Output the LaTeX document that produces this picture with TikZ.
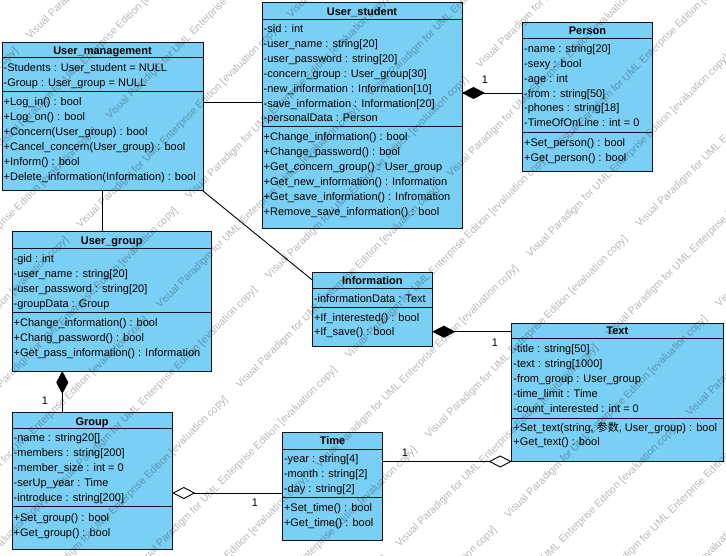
\documentclass[tikz,border=0pt]{standalone}
\usepackage{fontspec}
\setmainfont{Liberation Sans}
\newfontfamily\cjk{Noto Sans CJK SC}
\usetikzlibrary{arrows.meta}
\definecolor{classfill}{RGB}{122,207,245}
\definecolor{classline}{RGB}{16,20,32}
\tikzset{
  cls/.style={draw=classline, fill=classfill, line width=1pt, rectangle,
    inner sep=0pt, outer sep=0pt, anchor=north west},
  sepline/.style={draw=classline, line width=1pt},
  member/.style={anchor=base west, inner sep=0pt, font=\fontsize{11}{13}\selectfont},
  ctitle/.style={anchor=base, inner sep=0pt, font=\fontsize{11}{13}\selectfont\bfseries},
  conn/.style={line width=0.9pt, draw=black},
  comp/.style={conn, -{Diamond[length=23pt, width=12pt, fill=black]}},
  aggr/.style={conn, -{Diamond[length=23pt, width=12pt, fill=white]}},
  mult/.style={font=\fontsize{11}{13}\selectfont, inner sep=0pt, anchor=base},
  stamp/.style={anchor=base west, inner sep=0pt, rotate=45, text=black, text opacity=0.28,
    font=\fontsize{10.4}{12}\selectfont},
}
% class frame: name, left, top, right, bottom, first separator, second separator, title, title centre
\newcommand\umlbox[9]{%
  \node[cls, minimum width={#4-#2}, minimum height={#5-#3}] (#1) at (#2,#3) {};
  \draw[sepline] (#2,#6) -- (#4,#6);
  \draw[sepline] (#2,#7) -- (#4,#7);
  \node[ctitle] (#1-title) at ({(#2+#4)/2}, {#9+3.8}) {#8};
}
% a column of members: prefix, x, centre of first row, pitch, list
\newcommand\umlrows[5]{%
  \foreach \t [count=\i] in {#5}
    \node[member] (#1-\i) at (#2, {#3+(\i-1)*#4+3.8}) {\t};
}
\begin{document}
\begin{tikzpicture}[x=1pt, y=-1pt]
\useasboundingbox (0,0) rectangle (726,556);
\fill[white] (0,0) rectangle (726,556);

% User_management
\umlbox{um}{2}{43}{203}{191}{58}{92}{User\_management}{51}
\umlrows{um-a}{3.5}{68}{15}{{-Students : User\_student = NULL},{-Group : User\_group = NULL}}
\umlrows{um-m}{3.5}{101.5}{15}{{+Log\_in() : bool},{+Log\_on() : bool},{+Concern(User\_group) : bool},
  {+Cancel\_concern(User\_group) : bool},{+Inform() : bool},{+Delete\_information(Information) : bool}}

% User_student
\umlbox{us}{262}{3}{462}{229}{19.5}{127}{User\_student}{11.5}
\umlrows{us-a}{263.5}{29}{14.85}{{-sid : int},{-user\_name : string[20]},{-user\_password : string[20]},
  {-concern\_group : User\_group[30]},{-new\_information : Information[10]},
  {-save\_information : Information[20]},{-personalData : Person}}
\umlrows{us-m}{263.5}{137}{15}{{+Change\_information() : bool},{+Change\_password() : bool},
  {+Get\_concern\_group() : User\_group},{+Get\_new\_information() : Information},
  {+Get\_save\_information() : Infromation},{+Remove\_save\_information() : bool}}

% Person
\umlbox{ps}{522.5}{23}{652.5}{172}{38.7}{132.3}{Person}{31}
\umlrows{ps-a}{524}{48.6}{14.9}{{-name : string[20]},{-sexy : bool},{-age : int},{-from : string[50]},
  {-phones : string[18]},{-TimeOfOnLine : int = 0}}
\umlrows{ps-m}{524}{143}{14.5}{{+Set\_person() : bool},{+Get\_person() : bool}}

% User_group
\umlbox{ug}{12}{232}{211.5}{371}{248.7}{312}{User\_group}{241}
\umlrows{ug-a}{13.5}{258.7}{15}{{-gid : int},{-user\_name : string[20]},{-user\_password : string[20]},
  {-groupData : Group}}
\umlrows{ug-m}{13.5}{322.3}{15}{{+Change\_information() : bool},{+Chang\_password() : bool},
  {+Get\_pass\_information() : Information}}

% Information
\umlbox{inf}{312.3}{272.3}{432.3}{346}{289}{307.3}{Information}{281}
\umlrows{inf-a}{313.8}{298.3}{15}{{-informationData : Text}}
\umlrows{inf-m}{313.8}{317.3}{14.4}{{+If\_interested() : bool},{+If\_save() : bool}}

% Text
\umlbox{tx}{511.7}{323.5}{723}{461.3}{338.3}{418}{Text}{331}
\umlrows{tx-a}{513.2}{348.6}{14.9}{{-title : string[50]},{-text : string[1000]},{-from\_group : User\_group},
  {-time\_limit : Time},{-count\_interested : int = 0}}
\umlrows{tx-m}{513.2}{427.3}{14.7}{{+Set\_text(string, {\cjk 参数}, User\_group) : bool},{+Get\_text() : bool}}

% Group
\umlbox{gr}{12}{412.7}{172.3}{549}{428.3}{506.7}{Group}{421.5}
\umlrows{gr-a}{13.5}{438}{15}{{-name : string20[]},{-members : string[200]},{-member\_size : int = 0},
  {-serUp\_year : Time},{-introduce : string[200]}}
\umlrows{gr-m}{13.5}{517.3}{15}{{+Set\_group() : bool},{+Get\_group() : bool}}

% Time
\umlbox{tm}{282.3}{432.3}{382.7}{540}{449}{497.3}{Time}{441}
\umlrows{tm-a}{283.8}{458.3}{15}{{-year : string[4]},{-month : string[2]},{-day : string[2]}}
\umlrows{tm-m}{283.8}{507.3}{15}{{+Set\_time() : bool},{+Get\_time() : bool}}

% associations
\draw[conn] (um.east |- 0,102) -- (us.west |- 0,102);
\draw[conn] (um.south -| 102,0) -- (ug.north -| 102,0);
\draw[conn] (um.south east) -- (inf.west |- 0,280);

% compositions
\draw[comp] (ps.west |- 0,93) -- (us.east |- 0,93);
\node[mult] (m-ps) at (485,84) {1};
\draw[comp] (tx.west |- 0,331.7) -- (inf.east |- 0,331.7);
\node[mult] (m-inf) at (495,346) {1};
\draw[comp] (gr.north -| 62.3,0) -- (ug.south -| 62.3,0);
\node[mult] (m-ug) at (45,404) {1};

% aggregations
\draw[aggr] (tm.west |- 0,493) -- (gr.east |- 0,493);
\node[mult] (m-gr) at (255,506) {1};
\draw[aggr] (tm.east |- 0,461.5) -- (tx.west |- 0,461.5);
\node[mult] (m-tm) at (405,456) {1};

% evaluation stamp, repeated along diagonal lines over the whole sheet
\begin{scope}
\clip (0,0) rectangle (726,556);
\foreach \k in {-1,...,16}{
  \foreach \n in {-3,...,2}{
    \pgfmathsetmacro\sa{ifthenelse(mod(abs(\k),2)==0,-7,193)+298*\n}
    \pgfmathsetmacro\sp{49.5+56.4*\k}
    \pgfmathsetmacro\sx{(\sa+\sp)*0.7071}
    \pgfmathsetmacro\sy{(\sp-\sa)*0.7071}
    \node[stamp] (wm-\k-\n) at (\sx,\sy) {Visual Paradigm for UML Enterprise Edition [evaluation copy]};
  }
}
\end{scope}
\end{tikzpicture}
\end{document}
